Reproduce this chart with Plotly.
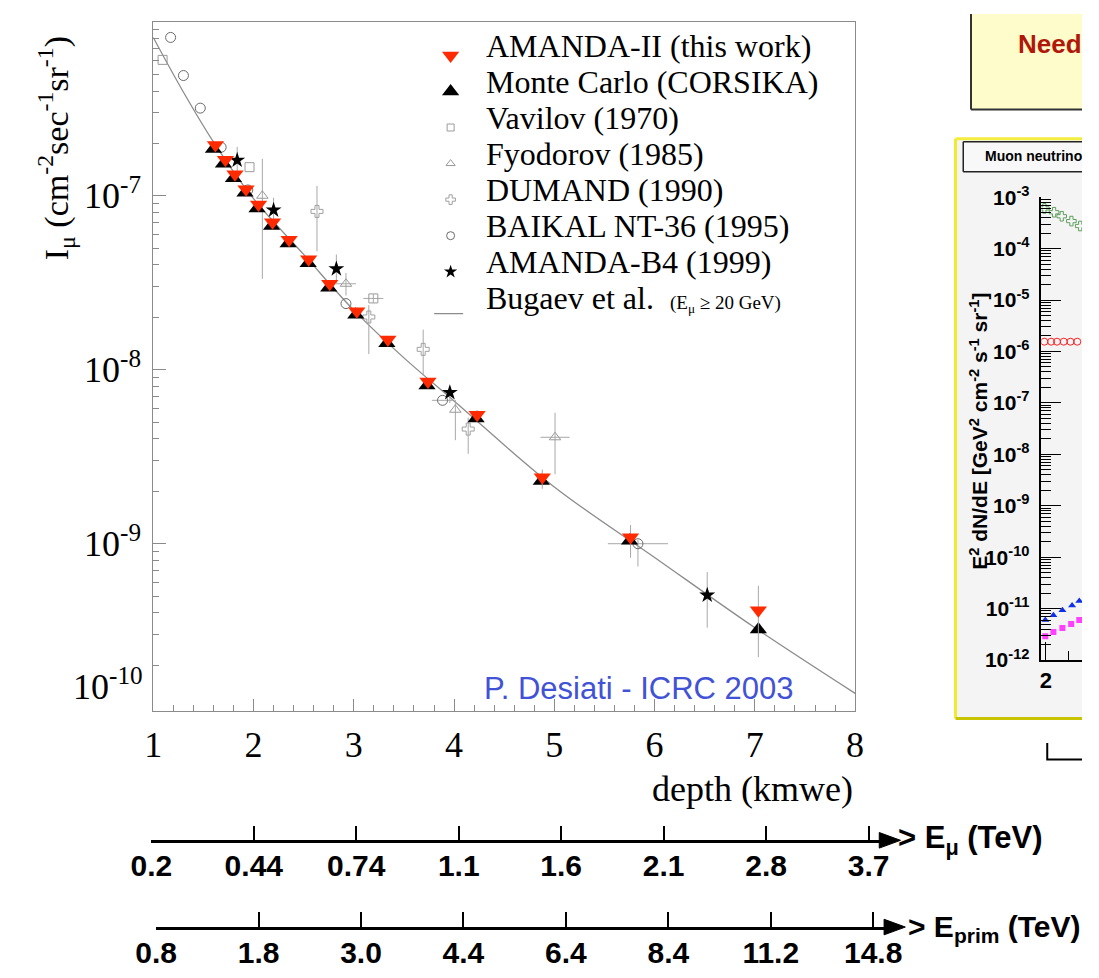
import plotly.graph_objects as go

W, H = 1099, 978
def px(x): return x / W
def py(y): return 1 - y / H

# ---------------- data ----------------
depth_amanda = [1.62, 1.72, 1.815, 1.925, 2.05, 2.19, 2.355, 2.55, 2.76, 3.03, 3.34, 3.74, 4.23, 4.88, 5.76, 7.035]
flux_amanda = [1.96e-7, 1.61e-7, 1.33e-7, 1.09e-7, 8.9e-8, 7.05e-8, 5.58e-8, 4.31e-8, 3.12e-8, 2.17e-8,
               1.49e-8, 8.57e-9, 5.52e-9, 2.41e-9, 1.09e-9, 4.15e-10]
amanda_err_hi = [5.9e-9, 4.8e-9, 4.0e-9, 3.3e-9, 2.7e-9, 2.1e-9, 1.7e-9, 1.3e-9, 9.4e-10, 6.5e-10,
                 4.5e-10, 2.6e-10, 3.5e-10, 2.6e-10, 1.9e-10, 1.58e-10]
amanda_err_lo = [5.9e-9, 4.8e-9, 4.0e-9, 3.3e-9, 2.7e-9, 2.1e-9, 1.7e-9, 1.3e-9, 9.4e-10, 6.5e-10,
                 4.5e-10, 2.6e-10, 3.5e-10, 3.4e-10, 2.6e-10, 1.92e-10]

depth_mc = [1.60, 1.70, 1.80, 1.915, 2.035, 2.18, 2.345, 2.545, 2.75, 3.02, 3.33, 3.73, 4.22, 4.87, 5.75, 7.035]
flux_mc = [1.86e-7, 1.53e-7, 1.26e-7, 1.04e-7, 8.45e-8, 6.7e-8, 5.31e-8, 4.09e-8, 2.96e-8, 2.07e-8,
           1.42e-8, 8.13e-9, 5.24e-9, 2.29e-9, 1.04e-9, 3.21e-10]

depth_vavilov = [1.093, 1.96, 3.195]
flux_vavilov = [6.04e-7, 1.46e-7, 2.57e-8]
vavilov_xerr = [0, 0, 0.1]
vavilov_yerr = [0, 0, 1.5e-9]

depth_fyodorov = [2.088, 2.922, 4.013, 5.007]
flux_fyodorov = [1.0e-7, 3.12e-8, 5.89e-9, 4.09e-9]
fyodorov_xerr = [0, 0.1, 0, 0.145]
fyodorov_err_hi = [6.3e-8, 4.8e-9, 8.1e-10, 1.57e-9]
fyodorov_err_lo = [6.67e-8, 4.5e-9, 1.95e-9, 1.58e-9]

depth_dumand = [2.633, 3.15, 3.692, 4.141]
flux_dumand = [8.13e-8, 2.01e-8, 1.31e-8, 4.56e-9]
dumand_err_hi = [3.27e-8, 3.4e-9, 3.9e-9, 7.5e-10]
dumand_err_lo = [3.34e-8, 7.8e-9, 3.85e-9, 1.27e-9]

depth_baikal = [1.173, 1.301, 1.469, 1.677, 1.943, 2.922, 3.885, 5.834]
flux_baikal = [8.13e-7, 4.91e-7, 3.19e-7, 1.90e-7, 1.08e-7, 2.40e-8, 6.67e-9, 1.0e-9]
baikal_xerr = [0, 0, 0, 0, 0, 0, 0.106, 0.3]
baikal_err_hi = [0, 0, 0, 0, 0, 0, 0, 5e-11]
baikal_err_lo = [0, 0, 0, 0, 0, 0, 0, 2.6e-10]

depth_b4 = [1.837, 2.200, 2.826, 3.958, 6.525]
flux_b4 = [1.60e-7, 8.27e-8, 3.80e-8, 7.39e-9, 5.06e-10]
b4_err_hi = [3.1e-8, 1.47e-8, 8.0e-9, 6.3e-10, 1.81e-10]
b4_err_lo = [2.2e-8, 1.4e-8, 6.4e-9, 9.5e-10, 1.77e-10]

depth_bugaev = [1.0, 1.3, 1.6, 2.0, 2.5, 3.0, 3.5, 4.0, 5.0, 6.0, 7.0, 8.0]
flux_bugaev = [8.13e-7, 3.95e-7, 2.04e-7, 9.62e-8, 4.6e-8, 2.2e-8, 1.17e-8, 6.61e-9, 2.12e-9, 8.34e-10,
               3.29e-10, 1.38e-10]

depth_ticks = [1, 2, 3, 4, 5, 6, 7, 8]
flux_ticks = [1e-7, 1e-8, 1e-9]
flux_ticktext = ["10<sup>-7</sup>", "10<sup>-8</sup>", "10<sup>-9</sup>"]

legend_names = ["AMANDA-II (this work)", "Monte Carlo (CORSIKA)", "Vavilov (1970)", "Fyodorov (1985)",
                "DUMAND (1990)", "BAIKAL NT-36 (1995)", "AMANDA-B4 (1999)",
                "Bugaev et al.  <span style='font-size:19px'>(E<sub>μ</sub> ≥ 20 GeV)</span>"]

emu_labels = ["0.2", "0.44", "0.74", "1.1", "1.6", "2.1", "2.8", "3.7"]
eprim_labels = ["0.8", "1.8", "3.0", "4.4", "6.4", "8.4", "11.2", "14.8"]

# right (cropped) panel
rp_green_x = [1.993, 2.036, 2.07, 2.113, 2.152]
rp_green_y = [6.05e-4, 5.1e-4, 4.26e-4, 3.43e-4, 2.75e-4]
rp_red_x = [1.993, 2.023, 2.049, 2.079, 2.109, 2.139]
rp_red_y = [1.55e-6, 1.55e-6, 1.55e-6, 1.55e-6, 1.55e-6, 1.55e-6]
rp_blue_x = [1.997, 2.033, 2.073, 2.116, 2.148]
rp_blue_y = [6.0e-12, 7.4e-12, 9.3e-12, 1.15e-11, 1.41e-11]
rp_mag_x = [1.997, 2.033, 2.073, 2.112, 2.148]
rp_mag_y = [2.9e-12, 3.5e-12, 4.2e-12, 5.0e-12, 6.0e-12]
rp_yticks = [1e-3, 1e-4, 1e-5, 1e-6, 1e-7, 1e-8, 1e-9, 1e-10, 1e-11, 1e-12]
rp_yticktext = ["10<sup>-3</sup>", "10<sup>-4</sup>", "10<sup>-5</sup>", "10<sup>-6</sup>", "10<sup>-7</sup>",
                "10<sup>-8</sup>", "10<sup>-9</sup>", "10<sup>-10</sup>", "10<sup>-11</sup>", "10<sup>-12</sup>"]

# ---------------- styles ----------------
SERIF = "Liberation Serif"
SANS = "Liberation Sans"
GRAY_ERR = "#a8a8a8"
AXC = "#8a8a8a"

def errs(hi, lo=None, color=GRAY_ERR):
    d = dict(type="data", array=hi, symmetric=lo is None, color=color, thickness=1, width=0)
    if lo is not None:
        d["arrayminus"] = lo
    return d

sty_amanda = dict(symbol="triangle-down", size=15, color="#ff2a00")
sty_mc = dict(symbol="triangle-up", size=15, color="black")
sty_vav = dict(symbol="square-open", size=9, color="#9a9a9a", line=dict(width=1))
sty_fyo = dict(symbol="triangle-up-open", size=10, color="#9a9a9a", line=dict(width=1))
sty_dum = dict(symbol="cross-open", size=10, color="#a0a0a0", line=dict(width=1))
sty_bai = dict(symbol="circle-open", size=10, color="#6a6a6a", line=dict(width=1))
sty_b4 = dict(symbol="star", size=12, color="black")
sty_bug = dict(color="#8c8c8c", width=1.3)

fig = go.Figure()

fig.add_trace(go.Scatter(x=depth_bugaev, y=flux_bugaev, mode="lines", line=dict(sty_bug, shape="spline"),
                         name="Bugaev", showlegend=False))
fig.add_trace(go.Scatter(x=depth_vavilov, y=flux_vavilov, mode="markers", name="Vavilov", showlegend=False,
                         marker=sty_vav, error_x=errs(vavilov_xerr), error_y=errs(vavilov_yerr)))
fig.add_trace(go.Scatter(x=depth_fyodorov, y=flux_fyodorov, mode="markers", name="Fyodorov", showlegend=False,
                         marker=sty_fyo, error_x=errs(fyodorov_xerr), error_y=errs(fyodorov_err_hi, fyodorov_err_lo)))
fig.add_trace(go.Scatter(x=depth_dumand, y=flux_dumand, mode="markers", name="DUMAND", showlegend=False,
                         marker=sty_dum, error_y=errs(dumand_err_hi, dumand_err_lo)))
fig.add_trace(go.Scatter(x=depth_baikal, y=flux_baikal, mode="markers", name="BAIKAL", showlegend=False,
                         marker=sty_bai, error_x=errs(baikal_xerr), error_y=errs(baikal_err_hi, baikal_err_lo)))
fig.add_trace(go.Scatter(x=depth_b4, y=flux_b4, mode="markers", name="AMANDA-B4", showlegend=False,
                         marker=sty_b4, error_y=errs(b4_err_hi, b4_err_lo)))
fig.add_trace(go.Scatter(x=depth_mc, y=flux_mc, mode="markers", name="Monte Carlo", showlegend=False,
                         marker=sty_mc))
fig.add_trace(go.Scatter(x=depth_amanda, y=flux_amanda, mode="markers", name="AMANDA-II", showlegend=False,
                         marker=sty_amanda, error_y=errs(amanda_err_hi, amanda_err_lo)))

# energy axes (empty traces just to create the subplots)
fig.add_trace(go.Scatter(x=[], y=[], xaxis="x2", yaxis="y2", showlegend=False))
fig.add_trace(go.Scatter(x=[], y=[], xaxis="x3", yaxis="y3", showlegend=False))

# right panel traces
fig.add_trace(go.Scatter(x=rp_green_x, y=rp_green_y, xaxis="x4", yaxis="y4", mode="markers", showlegend=False,
                         marker=dict(symbol="cross-open", size=8, color="#5f9f5f", line=dict(width=1))))
fig.add_trace(go.Scatter(x=rp_red_x, y=rp_red_y, xaxis="x4", yaxis="y4", mode="markers", showlegend=False,
                         marker=dict(symbol="circle-open", size=7, color="#ff2020", line=dict(width=1))))
fig.add_trace(go.Scatter(x=rp_blue_x, y=rp_blue_y, xaxis="x4", yaxis="y4", mode="markers", showlegend=False,
                         marker=dict(symbol="triangle-up", size=7, color="#1030e8")))
fig.add_trace(go.Scatter(x=rp_mag_x, y=rp_mag_y, xaxis="x4", yaxis="y4", mode="markers", showlegend=False,
                         marker=dict(symbol="square", size=6, color="#ff40ff")))

# legend keys: one row per legend entry on a small helper axis (row index)
key_styles = [sty_amanda, sty_mc, sty_vav, sty_fyo, sty_dum, sty_bai, sty_b4]
KEY_DROP = 0.27   # keys sit slightly below the text row (as in the reference)
for row, sty in enumerate(key_styles):
    leg_sty = dict(sty)
    if row >= 2:
        leg_sty["size"] = max(7, sty["size"] - 2)
    fig.add_trace(go.Scatter(x=[0.5], y=[row + KEY_DROP], xaxis="x5", yaxis="y5", mode="markers",
                             marker=leg_sty, showlegend=False, hoverinfo="skip"))
bug_row = len(key_styles)
fig.add_trace(go.Scatter(x=[0.16, 0.76], y=[bug_row + 0.43, bug_row + 0.43], xaxis="x5", yaxis="y5",
                         mode="lines", line=sty_bug, showlegend=False, hoverinfo="skip"))

main_x0, main_x1 = 137, 864
main_y0, main_y1 = 8, 715

e1_x0, e1_x1, e1_y, e1_step = 135, 890, 848, 106.14
e2_x0, e2_x1, e2_y, e2_step = 140, 895, 937, 106.1

LEG_TOP, LEG_ROW = 14, 37
n_leg = len(legend_names)
fig.update_layout(
    width=W, height=H,
    margin=dict(l=0, r=0, t=0, b=0),
    paper_bgcolor="white", plot_bgcolor="rgba(0,0,0,0)",
    showlegend=False,
    xaxis=dict(domain=[px(main_x0), px(main_x1)], anchor="y", range=[1, 8], tickvals=depth_ticks,
               ticks="inside", ticklen=12, tickcolor=AXC, showline=True, linecolor=AXC, mirror=True,
               showgrid=False, zeroline=False, tickfont=dict(family=SERIF, size=36, color="black"),
               ticklabelstandoff=2,
               minor=dict(dtick=0.2, ticks="inside", ticklen=6, tickcolor=AXC, showgrid=False)),
    yaxis=dict(domain=[py(main_y1), py(main_y0)], anchor="x", type="log", range=[-9.96, -6.0],
               tickvals=flux_ticks, ticktext=flux_ticktext,
               ticks="inside", ticklen=13, tickcolor=AXC, showline=True, linecolor=AXC, mirror=True,
               showgrid=False, zeroline=False, tickfont=dict(family=SERIF, size=36, color="black"),
               ticklabelstandoff=4,
               minor=dict(dtick="D1", ticks="inside", ticklen=6, tickcolor=AXC, showgrid=False)),
    xaxis2=dict(domain=[px(e1_x0), px(e1_x1)], anchor="y2", range=[0, (e1_x1 - e1_x0) / e1_step],
                tickvals=list(range(len(emu_labels))), ticktext=emu_labels,
                ticks="inside", ticklen=15, tickwidth=1.5, tickcolor="black", showline=True,
                linecolor="black", linewidth=2.5, showgrid=False, zeroline=False,
                tickfont=dict(family=SANS, size=30, color="black", weight="bold"), ticklabelstandoff=-3),
    yaxis2=dict(domain=[py(e1_y), py(e1_y) + 0.01], anchor="x2", visible=False, range=[0, 1]),
    xaxis3=dict(domain=[px(e2_x0), px(e2_x1)], anchor="y3", range=[0, (e2_x1 - e2_x0) / e2_step],
                tickvals=list(range(len(eprim_labels))), ticktext=eprim_labels,
                ticks="inside", ticklen=15, tickwidth=1.5, tickcolor="black", showline=True,
                linecolor="black", linewidth=2.5, showgrid=False, zeroline=False,
                tickfont=dict(family=SANS, size=30, color="black", weight="bold"), ticklabelstandoff=-3),
    yaxis3=dict(domain=[py(e2_y), py(e2_y) + 0.01], anchor="x3", visible=False, range=[0, 1]),
    xaxis4=dict(domain=[px(1057), 1.0], anchor="y4", range=[1.98, 2.16], tickvals=[2], ticktext=["2"],
                ticks="inside", ticklen=18, tickcolor="black", showline=True, linecolor="black", linewidth=1.5,
                showgrid=False, zeroline=False, tickfont=dict(family=SANS, size=22, color="black", weight="bold"),
                minor=dict(dtick=0.1, ticks="inside", ticklen=9, tickcolor="black", showgrid=False)),
    yaxis4=dict(domain=[py(663), py(188)], anchor="x4", type="log", range=[-12, -3],
                tickvals=rp_yticks, ticktext=rp_yticktext,
                ticks="inside", ticklen=20, tickcolor="black", showline=True, linecolor="black", linewidth=1.5,
                showgrid=False, zeroline=False, tickfont=dict(family=SANS, size=21, color="black", weight="bold"),
                ticklabelstandoff=6,
                minor=dict(dtick="D1", ticks="inside", ticklen=10, tickcolor="black", showgrid=False)),
    # helper axes for the legend block (row index, top row first)
    xaxis5=dict(domain=[px(420), px(470)], anchor="y5", range=[0, 1], visible=False),
    yaxis5=dict(domain=[py(LEG_TOP + LEG_ROW * n_leg), py(LEG_TOP)], anchor="x5",
                range=[n_leg - 0.5, -0.5], visible=False),
)

def pline(x0, y0, x1, y1, color, width):
    return dict(type="line", xref="paper", yref="paper", x0=px(x0), y0=py(y0), x1=px(x1), y1=py(y1),
                line=dict(color=color, width=width), layer="below")

shapes = [
    # cropped slide elements on the right
    dict(type="rect", xref="paper", yref="paper", x0=px(984), x1=1.0, y0=py(98), y1=1.0,
         fillcolor="#fffccc", line=dict(width=0), layer="below"),
    pline(984, 0, 984, 98, "#333333", 2), pline(984, 98, W, 98, "#333333", 2),
    dict(type="rect", xref="paper", yref="paper", x0=px(968), x1=1.0, y0=py(723), y1=py(128),
         fillcolor="#f4f4f4", line=dict(width=0), layer="below"),
    pline(968, 128, W, 128, "#f2ee40", 3), pline(968, 128, 968, 723, "#f0ea30", 3),
    pline(968, 723, W, 723, "#c8c400", 3),
    dict(type="rect", xref="paper", yref="paper", x0=px(976), x1=1.0, y0=py(162), y1=py(131),
         fillcolor="#f8f8f8", line=dict(width=0), layer="below"),
    pline(976, 131, W, 131, "#222222", 1.5), pline(976, 131, 976, 162, "#222222", 1.5),
    pline(976, 162, W, 162, "#222222", 1.5),
    dict(type="path", xref="paper", yref="paper",
         path="M%f,%f L%f,%f L%f,%f" % (px(1063), py(748), px(1063), py(765), 1.0, py(765)),
         line=dict(color="black", width=2)),
    # arrow heads of the energy axes
    dict(type="path", xref="paper", yref="paper",
         path="M%f,%f L%f,%f L%f,%f Z" % (px(e1_x1 - 1), py(e1_y - 8), px(e1_x1 + 21), py(e1_y), px(e1_x1 - 1), py(e1_y + 8)),
         fillcolor="black", line=dict(color="black", width=1)),
    dict(type="path", xref="paper", yref="paper",
         path="M%f,%f L%f,%f L%f,%f Z" % (px(e2_x1 - 1), py(e2_y - 8), px(e2_x1 + 21), py(e2_y), px(e2_x1 - 1), py(e2_y + 8)),
         fillcolor="black", line=dict(color="black", width=1)),
]

def pann(text, x, y, xanchor="left", yanchor="middle", size=30, family=SERIF, color="black", **kw):
    return dict(text=text, xref="paper", yref="paper", x=px(x), y=py(y), xanchor=xanchor, yanchor=yanchor,
                showarrow=False, font=dict(family=family, size=size, color=color), **kw)

annotations = [
    pann("I<sub>μ</sub> (cm<sup>-2</sup>sec<sup>-1</sup>sr<sup>-1</sup>)", 36, 138, "center", "middle", 34, textangle=-90),
    pann("10<sup>-10</sup>", 128, 688, "right", "middle", 36),
    pann("depth (kmwe)", 864, 795, "right", "middle", 36),
    pann("P. Desiati - ICRC 2003", 803, 692, "right", "middle", 31, SANS, "#4252d6"),
    pann("<b>&gt; E<sub>μ</sub> (TeV)</b>", 906, 848, "left", "middle", 31, SANS),
    pann("<b>&gt; E<sub>prim</sub> (TeV)</b>", 917, 939, "left", "middle", 30, SANS),
    pann("<b>Need</b>", 1031, 31, "left", "middle", 26, SANS, "#b0180a"),
    pann("<b>Muon neutrino</b>", 996, 146, "left", "middle", 14, SANS),
    pann("<b>E<sup>2</sup> dN/dE [GeV<sup>2</sup> cm<sup>-2</sup> s<sup>-1</sup> sr<sup>-1</sup>]</b>",
         992, 428, "center", "middle", 21, SANS, textangle=-90),
]
# legend texts, one per row of the legend helper axis
for row, name in enumerate(legend_names):
    annotations.append(dict(text=name, xref="paper", yref="y5", x=px(480), y=row, xanchor="left",
                            yanchor="middle", showarrow=False,
                            font=dict(family=SERIF, size=32, color="black")))

fig.update_layout(shapes=shapes, annotations=annotations)

fig.write_html("out.html")
